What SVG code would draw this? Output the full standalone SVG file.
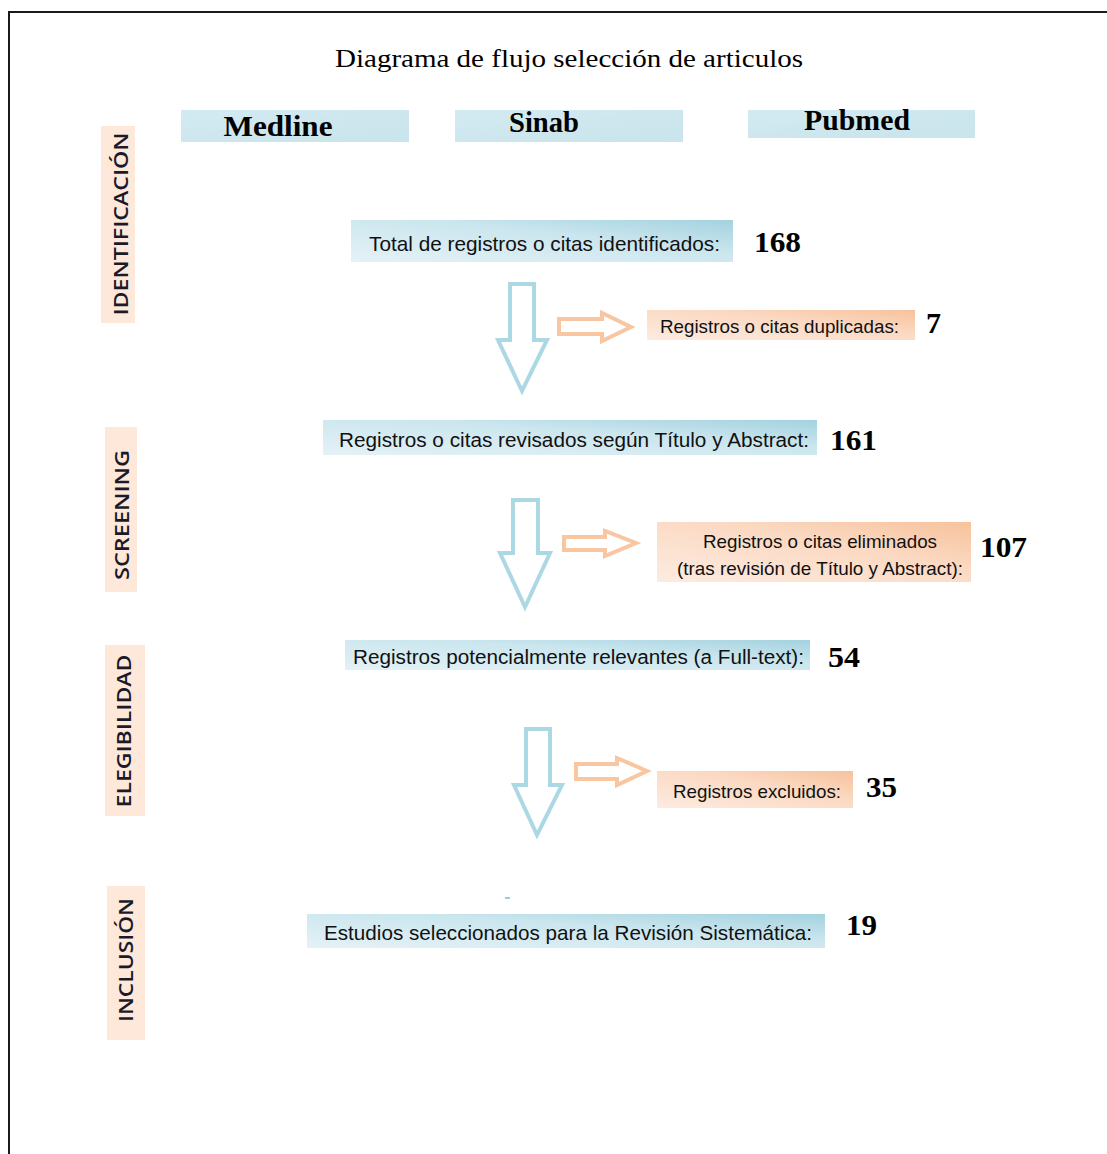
<svg xmlns="http://www.w3.org/2000/svg" width="1107" height="1154" viewBox="0 0 1107 1154">
<defs>
<linearGradient id="gBlue" x1="0" y1="1" x2="1" y2="0">
<stop offset="0" stop-color="#e4f2f6"/>
<stop offset="0.6" stop-color="#cbe6ee"/>
<stop offset="1" stop-color="#a3d2df"/>
</linearGradient>
<linearGradient id="gHead" x1="0" y1="0" x2="1" y2="1">
<stop offset="0" stop-color="#d3eaf1"/>
<stop offset="1" stop-color="#c9e4ec"/>
</linearGradient>
<linearGradient id="gOrange" x1="0" y1="1" x2="1" y2="0">
<stop offset="0" stop-color="#fdebe0"/>
<stop offset="0.6" stop-color="#fbd9c2"/>
<stop offset="1" stop-color="#f7c29c"/>
</linearGradient>
<style>
.frame{fill:none;stroke:#1a1a1a;stroke-width:2}
.title{font-family:"Liberation Serif",serif;font-size:26px;fill:#000}
.head{fill:url(#gHead)}
.headt{font-family:"Liberation Serif",serif;font-weight:bold;font-size:29px;fill:#000}
.side{fill:#fde8da}
.sidet{font-family:"Open Sans","Liberation Sans",sans-serif;font-weight:600;font-size:19px;fill:#1a1a2a}
.bbox{fill:url(#gBlue)}
.obox{fill:url(#gOrange)}
.bt{font-family:"Liberation Sans",sans-serif;font-size:21px;fill:#111}
.bt2{font-family:"Liberation Sans",sans-serif;font-size:20px;fill:#111}
.ot{font-family:"Liberation Sans",sans-serif;font-size:19px;fill:#111}
.num{font-family:"Liberation Serif",serif;font-weight:bold;font-size:30px;fill:#000}
.darr{fill:#fff;stroke:#acd8e4;stroke-width:4;stroke-linejoin:miter}
.rarr{fill:#fff;stroke:#f9c6a2;stroke-width:4;stroke-linejoin:miter}
</style>
</defs>
<rect x="0" y="0" width="1107" height="1154" fill="#fff"/>
<rect class="frame" x="9" y="12" width="1110" height="1160"/>
<text class="title" x="569" y="67" text-anchor="middle" textLength="468" lengthAdjust="spacingAndGlyphs">Diagrama de flujo selección de articulos</text>

<g id="medline"><rect class="head" x="181" y="110" width="228" height="32"/><text class="headt" x="278" y="136" text-anchor="middle" textLength="109" lengthAdjust="spacingAndGlyphs">Medline</text></g>
<g id="sinab"><rect class="head" x="455" y="110" width="228" height="32"/><text class="headt" x="544" y="132" text-anchor="middle" textLength="70" lengthAdjust="spacingAndGlyphs">Sinab</text></g>
<g id="pubmed"><rect class="head" x="748" y="110" width="227" height="28"/><text class="headt" x="857" y="130" text-anchor="middle" textLength="106" lengthAdjust="spacingAndGlyphs">Pubmed</text></g>

<g id="lbl-identificacion"><rect class="side" x="101" y="126" width="34" height="197"/><text class="sidet" transform="translate(128,224) rotate(-90)" text-anchor="middle" textLength="183" lengthAdjust="spacingAndGlyphs">IDENTIFICACIÓN</text></g>
<g id="lbl-screening"><rect class="side" x="105" y="427" width="32" height="165"/><text class="sidet" transform="translate(129,515) rotate(-90)" text-anchor="middle" textLength="130" lengthAdjust="spacingAndGlyphs">SCREENING</text></g>
<g id="lbl-elegibilidad"><rect class="side" x="105" y="645" width="40" height="171"/><text class="sidet" transform="translate(131,731) rotate(-90)" text-anchor="middle" textLength="153" lengthAdjust="spacingAndGlyphs">ELEGIBILIDAD</text></g>
<g id="lbl-inclusion"><rect class="side" x="107" y="886" width="38" height="154"/><text class="sidet" transform="translate(133,960) rotate(-90)" text-anchor="middle" textLength="124" lengthAdjust="spacingAndGlyphs">INCLUSIÓN</text></g>

<g id="n-total"><rect class="bbox" x="351" y="220" width="382" height="42"/><text class="bt" x="369" y="251" textLength="351" lengthAdjust="spacingAndGlyphs">Total de registros o citas identificados:</text><text class="num" x="754" y="252" textLength="47" lengthAdjust="spacingAndGlyphs">168</text></g>
<g id="n-duplicadas"><rect class="obox" x="647" y="310" width="268" height="30"/><text class="ot" x="660" y="333" textLength="239" lengthAdjust="spacingAndGlyphs">Registros o citas duplicadas:</text><text class="num" x="926" y="333" font-size="26">7</text></g>
<g id="n-revisados"><rect class="bbox" x="323" y="420" width="494" height="35"/><text class="bt2" x="339" y="447" textLength="470" lengthAdjust="spacingAndGlyphs">Registros o citas revisados según Título y Abstract:</text><text class="num" x="830" y="450" textLength="47" lengthAdjust="spacingAndGlyphs">161</text></g>
<g id="n-eliminados"><rect class="obox" x="657" y="522" width="314" height="60"/><text class="ot" x="703" y="548" textLength="234" lengthAdjust="spacingAndGlyphs">Registros o citas eliminados</text><text class="ot" x="677" y="575" textLength="286" lengthAdjust="spacingAndGlyphs">(tras revisión de Título y Abstract):</text><text class="num" x="980" y="557" textLength="47" lengthAdjust="spacingAndGlyphs">107</text></g>
<g id="n-relevantes"><rect class="bbox" x="345" y="640" width="465" height="30"/><text class="bt2" x="353" y="664" textLength="451" lengthAdjust="spacingAndGlyphs">Registros potencialmente relevantes (a Full-text):</text><text class="num" x="828" y="667" textLength="32" lengthAdjust="spacingAndGlyphs">54</text></g>
<g id="n-excluidos"><rect class="obox" x="657" y="771" width="196" height="37"/><text class="ot" x="673" y="798" textLength="168" lengthAdjust="spacingAndGlyphs">Registros excluidos:</text><text class="num" x="866" y="797" textLength="31" lengthAdjust="spacingAndGlyphs">35</text></g>
<g id="n-seleccionados"><rect class="bbox" x="307" y="914" width="518" height="34"/><text class="bt" x="324" y="940" textLength="488" lengthAdjust="spacingAndGlyphs">Estudios seleccionados para la Revisión Sistemática:</text><text class="num" x="846" y="935" textLength="31" lengthAdjust="spacingAndGlyphs">19</text></g>
<rect x="505" y="897" width="5" height="2" fill="#9ccfdd"/>

<g id="connectors">
<path class="darr" d="M510,284 H534 V340 H547 L522,391 L498,340 H510 Z"/>
<path class="rarr" d="M559,319 H602 V313 L631,327 L602,341 V334 H559 Z"/>
<path class="darr" d="M513,500 H538 V553 H550 L525,607 L500,553 H513 Z"/>
<path class="rarr" d="M564,537 H605 V531 L636,543 L605,556 V550 H564 Z"/>
<path class="darr" d="M526,729 H550 V785 H562 L537,835 L514,785 H526 Z"/>
<path class="rarr" d="M576,764 H617 V758 L647,771 L617,785 V779 H576 Z"/>
</g>
</svg>
